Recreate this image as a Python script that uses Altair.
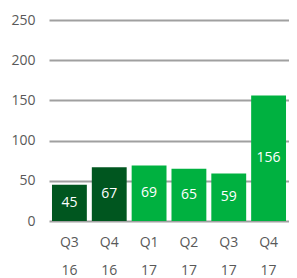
import altair as alt
import pandas as pd

quarters = ["Q3|16", "Q4|16", "Q1|17", "Q2|17", "Q3|17", "Q4|17"]
values = [45, 67, 69, 65, 59, 156]
groups = ["old", "old", "new", "new", "new", "new"]
colors_domain = ["old", "new"]
colors_range = ["#00561f", "#00b140"]
y_ticks = [0, 50, 100, 150, 200, 250]

df = pd.DataFrame({"q": quarters, "v": values, "g": groups})

x = alt.X("q:N", sort=None, title=None,
          scale=alt.Scale(paddingInner=0.125, paddingOuter=0.075),
          axis=alt.Axis(labelExpr="split(datum.label, '|')", labelAngle=0,
                        domain=False, ticks=False, labelPadding=14,
                        labelLineHeight=28, labelFontSize=14, labelColor="#595959",
                        labelFont="Open Sans"))
y = alt.Y("v:Q", title=None, scale=alt.Scale(domain=[0, 250], nice=False),
          axis=alt.Axis(values=y_ticks, domain=False, ticks=False, labelPadding=14,
                        gridColor="#a0a0a0", gridWidth=2,
                        labelFontSize=14, labelColor="#595959", labelFont="Open Sans"))

bars = alt.Chart(df).mark_bar().encode(
    x=x, y=y,
    color=alt.Color("g:N", scale=alt.Scale(domain=colors_domain, range=colors_range), legend=None),
)
text = alt.Chart(df).transform_calculate(mid="datum.v / 2").mark_text(
    color="white", fontSize=14, font="Open Sans", baseline="middle"
).encode(x=x, y=alt.Y("mid:Q"), text="v:Q")

chart = (bars + text).properties(
    width=240, height=201,
    autosize=alt.AutoSizeParams(type="none"),
    padding={"left": 41, "top": 12, "right": 0, "bottom": 58},
).configure_view(stroke=None)

chart.save("out.html", embed_options={"renderer": "svg", "actions": False})
